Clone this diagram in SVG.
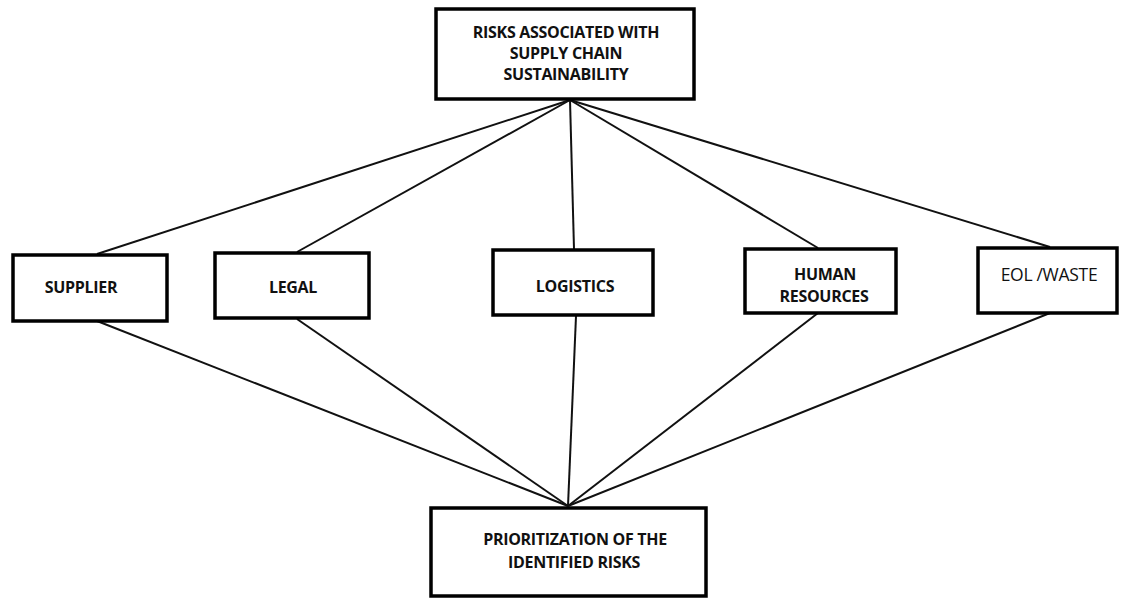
<svg xmlns="http://www.w3.org/2000/svg" width="1123" height="598" viewBox="0 0 1123 598">
<style>
.box{fill:#fff;stroke:#000;stroke-width:3.5}
.t{font-family:"Open Sans","Liberation Sans",sans-serif;font-weight:bold;font-size:16px;fill:#111;text-anchor:middle;letter-spacing:-0.3px}
.r{font-weight:normal;font-size:17.5px}
.c line{stroke:#111;stroke-width:2}
</style>
<rect width="1123" height="598" fill="#fff"/>
<g class="c" id="connectors">
<line x1="570" y1="100" x2="97" y2="254"/>
<line x1="570" y1="100" x2="297" y2="252"/>
<line x1="570" y1="100" x2="574" y2="249"/>
<line x1="570" y1="100" x2="818" y2="248"/>
<line x1="570" y1="100" x2="1050" y2="247"/>
<line x1="97" y1="321" x2="568" y2="506"/>
<line x1="297" y1="319" x2="568" y2="506"/>
<line x1="576" y1="316" x2="568" y2="506"/>
<line x1="818" y1="313" x2="568" y2="506"/>
<line x1="1050" y1="313" x2="568" y2="506"/>
</g>
<g id="top">
<rect class="box" x="436" y="9" width="258" height="90"/>
<text class="t" x="566" y="38">RISKS ASSOCIATED WITH</text>
<text class="t" x="566" y="59">SUPPLY CHAIN</text>
<text class="t" x="566" y="80">SUSTAINABILITY</text>
</g>
<g id="supplier">
<rect class="box" x="13" y="255" width="154" height="66"/>
<text class="t" x="81" y="293">SUPPLIER</text>
</g>
<g id="legal">
<rect class="box" x="215" y="253" width="154" height="65"/>
<text class="t" x="293" y="293">LEGAL</text>
</g>
<g id="logistics">
<rect class="box" x="493" y="250" width="160" height="65"/>
<text class="t" x="575" y="292">LOGISTICS</text>
</g>
<g id="hr">
<rect class="box" x="745" y="249" width="151" height="64"/>
<text class="t" x="825" y="280">HUMAN</text>
<text class="t" x="824" y="302">RESOURCES</text>
</g>
<g id="eol">
<rect class="box" x="978" y="248" width="139" height="65"/>
<text class="t r" x="1049" y="281">EOL /WASTE</text>
</g>
<g id="bottom">
<rect class="box" x="431" y="508" width="275" height="88"/>
<text class="t" x="575" y="545">PRIORITIZATION OF THE</text>
<text class="t" x="574" y="568">IDENTIFIED RISKS</text>
</g>
</svg>
